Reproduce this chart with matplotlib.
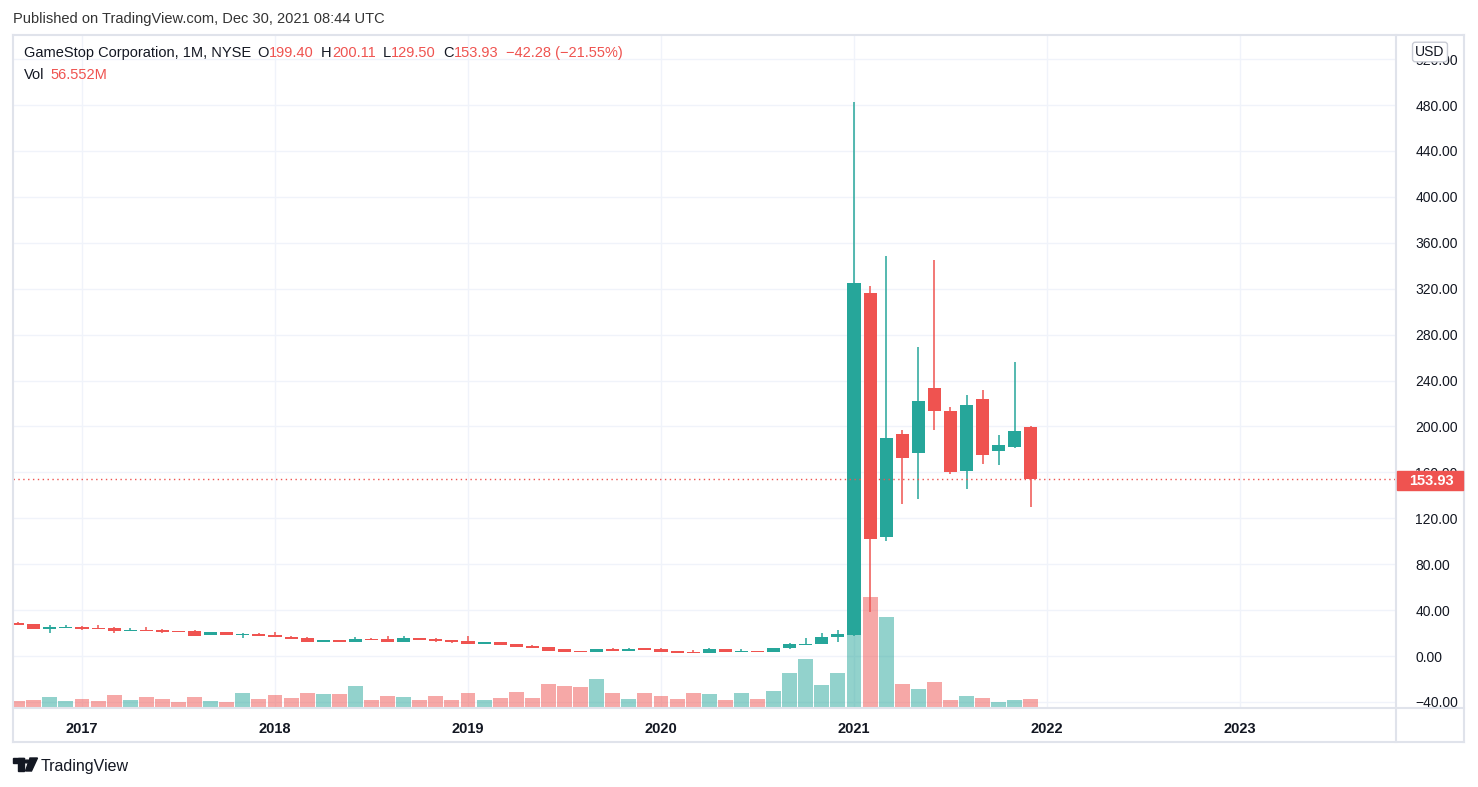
import numpy as np
import pandas as pd
import matplotlib
matplotlib.use('Agg')
import matplotlib.pyplot as plt
import matplotlib.transforms as mtransforms
from matplotlib.patches import Rectangle, Polygon, Circle
from matplotlib.lines import Line2D

# monthly candles, Sep 2016 .. Dec 2021
months = pd.period_range('2016-09', '2021-12', freq='M')
opens = [29.0, 27.6, 23.7, 24.7,
         25.5, 24.6, 24.3, 21.7, 22.6, 22.9, 21.7, 21.7, 18.5, 20.8, 18.5, 19.1,
         18.5, 16.5, 15.6, 12.1, 13.9, 12.1, 14.7, 14.7, 12.1, 15.6, 14.7, 13.9,
         13.1, 10.4, 12.1, 10.4, 8.6, 7.8, 6.0, 4.3, 3.4, 6.0, 4.3, 6.9,
         6.0, 4.3, 3.4, 2.6, 6.1, 3.8, 4.6, 3.5, 7.0, 9.6, 10.4, 16.5,
         18.3, 316.6, 104.0, 193.4, 176.8, 233.4, 213.4, 161.1, 223.9, 178.6, 182.1, 199.40]
highs = [29.2, 27.8, 26.8, 27.2,
         26.3, 27.2, 25.5, 24.3, 25.2, 23.4, 21.8, 22.6, 20.9, 20.9, 20.3, 20.0,
         20.8, 17.4, 16.5, 14.0, 14.0, 16.5, 15.6, 17.4, 17.4, 15.7, 15.6, 14.0,
         17.4, 12.2, 12.2, 10.5, 9.8, 7.9, 6.1, 4.4, 6.1, 7.0, 7.0, 7.0,
         6.9, 4.4, 5.2, 7.0, 6.2, 6.4, 4.7, 7.1, 11.3, 15.7, 20.0, 22.6,
         483.0, 322.0, 348.5, 196.9, 269.2, 344.9, 216.9, 227.4, 231.7, 192.5, 256.1, 200.11]
lows = [27.2, 23.4, 20.3, 24.5,
        22.9, 23.7, 20.3, 21.6, 21.6, 20.3, 21.0, 17.3, 18.4, 18.1, 15.9, 17.5,
        16.7, 14.6, 12.0, 12.0, 12.0, 12.0, 13.8, 12.0, 12.0, 13.8, 11.8, 11.3,
        10.3, 10.3, 9.4, 7.7, 6.8, 4.2, 3.3, 3.2, 3.3, 4.2, 4.2, 5.1,
        3.3, 2.5, 2.5, 2.5, 3.4, 3.7, 3.7, 3.4, 6.1, 9.5, 10.3, 12.2,
        17.1, 38.5, 100.4, 132.4, 136.8, 196.9, 158.5, 145.5, 167.2, 166.4, 181.5, 129.50]
closes = [27.4, 23.5, 25.1, 25.3,
          23.8, 23.8, 21.7, 22.6, 21.7, 21.1, 21.1, 17.4, 20.8, 18.2, 19.4, 17.6,
          16.8, 14.7, 12.1, 13.9, 12.1, 14.7, 13.9, 12.1, 15.6, 13.9, 13.0, 12.1,
          10.4, 12.1, 9.5, 7.8, 6.9, 4.3, 3.4, 3.4, 6.0, 4.3, 6.0, 5.2,
          3.4, 2.6, 2.6, 6.1, 3.5, 4.6, 3.8, 7.0, 10.4, 10.4, 16.5, 19.1,
          325.0, 101.7, 190.0, 172.5, 222.1, 213.4, 160.3, 218.6, 175.1, 183.8, 196.0, 153.93]
# volume in millions
volumes = [44, 50, 69, 44,
           57, 44, 82, 50, 69, 57, 38, 69, 44, 38, 95, 57,
           82, 63, 95, 88, 88, 139, 50, 76, 69, 50, 76, 50,
           95, 50, 63, 101, 63, 151, 139, 132, 183, 95, 57, 95,
           76, 57, 95, 88, 50, 95, 57, 107, 221, 309, 145, 221,
           1058, 699, 573, 151, 120, 164, 50, 76, 63, 38, 50, 56.552]
years = [2017, 2018, 2019, 2020, 2021, 2022, 2023]
price_ticks = list(range(-40, 521, 40))
last_price = 153.93

UP = '#26a69a'
DOWN = '#ef5350'
TXT = '#131722'
GRID = '#f0f3fa'
BORDER = '#e0e3eb'

W, H = 1478, 787
fig = plt.figure(figsize=(W / 100, H / 100), dpi=100)
fig.patch.set_facecolor('white')
plt.rcParams['font.family'] = ['Liberation Sans', 'DejaVu Sans']


def fx(px):
    return px / W


def fy(py):
    return 1 - py / H


rect = [fx(13), fy(708), fx(1396) - fx(13), fy(35) - fy(708)]
axv = fig.add_axes(rect, zorder=1)
ax = fig.add_axes(rect, zorder=2, sharex=axv)
ax.patch.set_alpha(0)

xs = np.array([(m.year - 2017) * 12 + m.month - 1 for m in months])
o = np.array(opens)
h = np.array(highs)
l = np.array(lows)
c = np.array(closes)
up = c >= o
cols = np.where(up, UP, DOWN)

ax.set_xlim(-4.29, 81.7)
ax.set_ylim(-45.3, 541)
axv.set_ylim(0, 4228)

# grid on the bottom layer
ytr = mtransforms.blended_transform_factory(axv.transAxes, ax.transData)
for p in price_ticks:
    axv.plot([0, 1], [p, p], color=GRID, lw=1, transform=ytr, zorder=0)
for yr in years:
    axv.axvline((yr - 2017) * 12, color=GRID, lw=1, zorder=0)

# volume
axv.bar(xs, volumes, width=0.93, color=cols, alpha=0.5, linewidth=0, zorder=2)

# candles
ax.vlines(xs, l, h, colors=cols, lw=1.1, zorder=3)
body_lo = np.minimum(o, c)
body_h = np.maximum(np.abs(c - o), 0.9)
ax.bar(xs, body_h, bottom=body_lo, width=0.81, color=cols, linewidth=0, zorder=4)

# last price line
ax.axhline(last_price, color=DOWN, lw=1, ls=(0, (1, 2.5)), zorder=5)

for a in (ax, axv):
    for s in a.spines.values():
        s.set_visible(False)
axv.set_yticks([])
axv.tick_params(axis='x', length=0, labelbottom=False)

ax.set_xticks([(yr - 2017) * 12 for yr in years])
ax.set_xticklabels([str(yr) for yr in years], fontsize=10.5, fontweight='bold',
                   color=TXT)
ax.tick_params(axis='x', length=0, pad=10)
ax.yaxis.tick_right()
ax.set_yticks(price_ticks)
ax.set_yticklabels(['%.2f' % p if p >= 0 else '\u2212%.2f' % -p for p in price_ticks],
                   fontsize=10, color=TXT)
ax.tick_params(axis='y', length=0, pad=14)

# frame lines
frame = [((13, 35), (1464, 35)), ((13, 742), (1464, 742)), ((13, 35), (13, 742)),
         ((1464, 35), (1464, 742)), ((1396, 35), (1396, 742)), ((13, 708), (1464, 708))]
for (x0, y0), (x1, y1) in frame:
    fig.add_artist(Line2D([fx(x0), fx(x1)], [fy(y0), fy(y1)], color=BORDER, lw=1.5,
                          zorder=6))

# last price label spanning the price scale column
fig.add_artist(Rectangle((fx(1397), fy(490)), fx(1463) - fx(1397), fy(471) - fy(490),
                         color=DOWN, transform=fig.transFigure, zorder=9))
fig.text(fx(1431), fy(481), '%.2f' % last_price, color='white', fontsize=10.5,
         fontweight='bold', ha='center', va='center', zorder=10)
fig.text(fx(1430), fy(52), 'USD', color=TXT, fontsize=10, ha='center', va='center',
         zorder=10, bbox=dict(boxstyle='round,pad=0.2', fc='white', ec='#c9ccd5', lw=1))

# header
fig.text(fx(13), fy(19), 'Published on TradingView.com, Dec 30, 2021 08:44 UTC',
         color='#333333', fontsize=10.5, ha='left', va='center')

renderer = fig.canvas.get_renderer()


def seq_text(x, y, parts, size):
    for s, col, gap in parts:
        t = fig.text(fx(x), fy(y), s, color=col, fontsize=size, ha='left', va='center',
                     zorder=10)
        x += t.get_window_extent(renderer).width + gap


seq_text(24, 53, [('GameStop Corporation, 1M, NYSE', TXT, 6),
                  ('O', TXT, 0.5), ('199.40', DOWN, 7),
                  ('H', TXT, 0.5), ('200.11', DOWN, 7),
                  ('L', TXT, 0.5), ('129.50', DOWN, 7),
                  ('C', TXT, 0.5), ('153.93', DOWN, 7),
                  ('\u221242.28 (\u221221.55%)', DOWN, 0)], 10.5)
seq_text(24, 75, [('Vol', TXT, 6), ('56.552M', DOWN, 0)], 10.5)

# TradingView logo
fig.add_artist(Rectangle((fx(13), fy(763)), fx(24) - fx(13), fy(758) - fy(763),
                         color=TXT, transform=fig.transFigure))
fig.add_artist(Rectangle((fx(18), fy(771)), fx(24) - fx(18), fy(758) - fy(771),
                         color=TXT, transform=fig.transFigure))
fig.add_artist(Circle((fx(27), fy(761.5)), 2.6 / W, color=TXT, transform=fig.transFigure))
fig.add_artist(Polygon([(fx(30), fy(758)), (fx(37.5), fy(758)), (fx(31.5), fy(771)),
                        (fx(25.5), fy(771))], color=TXT, transform=fig.transFigure))
fig.text(fx(41), fy(766), 'TradingView', color=TXT, fontsize=11.5, ha='left',
         va='center')

fig.savefig('out.png', dpi=100, facecolor='white')
